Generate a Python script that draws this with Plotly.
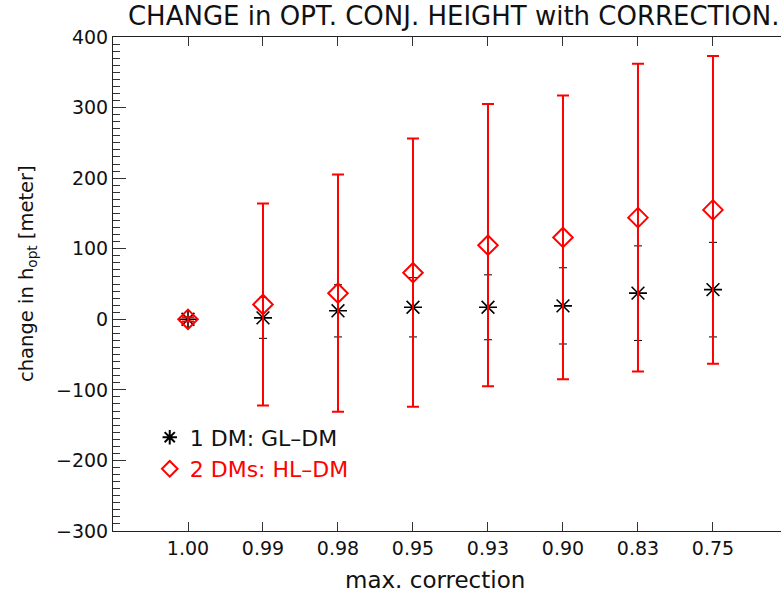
import plotly.graph_objects as go

# Data
categories = ["1.00", "0.99", "0.98", "0.95", "0.93", "0.90", "0.83", "0.75"]
positions = [1, 2, 3, 4, 5, 6, 7, 8]
one_dm_values = [0, 2, 12, 17, 17, 19, 37, 42]
one_dm_errors = [3, 29, 37, 42, 46, 54, 67, 67]
two_dm_values = [0, 21, 37, 66, 105, 116, 144, 155]
two_dm_errors = [3, 143, 168, 190, 200, 201, 218, 218]

FONT = "DejaVu Sans"
TXT = "#111111"

fig = go.Figure()

fig.add_trace(go.Scatter(
    x=positions, y=one_dm_values, mode="markers",
    name="1 DM: GL\u2013DM",
    marker=dict(symbol="asterisk-open", size=15, color="black",
                line=dict(color="black", width=1.6)),
    error_y=dict(type="data", array=one_dm_errors, visible=True,
                 color="black", thickness=1, width=4),
))
fig.add_trace(go.Scatter(
    x=positions, y=two_dm_values, mode="markers",
    name='<span style="color:#ff0000">2 DMs: HL\u2013DM</span>',
    marker=dict(symbol="diamond-open", size=15, color="#ff0000",
                line=dict(color="#ff0000", width=2)),
    error_y=dict(type="data", array=two_dm_errors, visible=True,
                 color="#ff0000", thickness=2, width=6),
))

W, H = 781, 594
L, R, T, B = 113, 0, 37, 63
PW, PH = W - L - R, H - T - B

fig.update_layout(
    width=W, height=H,
    margin=dict(l=L, r=R, t=T, b=B, pad=0),
    paper_bgcolor="white", plot_bgcolor="white",
    font=dict(family=FONT, size=19, color=TXT),
    title=dict(text="CHANGE in OPT. CONJ. HEIGHT with CORRECTION.",
               x=0.51, xanchor="center", xref="paper",
               y=1 - 16 / H, yanchor="middle", yref="container",
               font=dict(family=FONT, size=26, color=TXT)),
    showlegend=True,
    legend=dict(x=0.055, y=0.232, xanchor="left", yanchor="top",
                bgcolor="rgba(0,0,0,0)", borderwidth=0,
                font=dict(family=FONT, size=22, color=TXT),
                itemsizing="constant", tracegroupgap=0),
    xaxis=dict(
        range=[0, 8.907], tickmode="array", tickvals=positions,
        ticktext=categories, ticks="inside", ticklen=9, tickwidth=1,
        tickcolor="#333", showline=True, linecolor="#222", linewidth=1,
        mirror="ticks", showgrid=False, zeroline=False,
        tickfont=dict(family=FONT, size=19, color=TXT),
    ),
    yaxis=dict(
        range=[-300, 400], tickmode="linear", tick0=0, dtick=100,
        ticks="inside", ticklen=13, tickwidth=1, tickcolor="#333",
        showline=True, linecolor="#222", linewidth=1, mirror=False,
        showgrid=False, zeroline=False,
        minor=dict(ticks="inside", ticklen=7, dtick=10, tick0=0,
                   tickcolor="#333", tickwidth=1, showgrid=False),
        tickfont=dict(family=FONT, size=19, color=TXT),
    ),
    yaxis2=dict(
        range=[-300, 400], overlaying="y", side="right",
        tickmode="linear", tick0=0, dtick=100, ticks="inside",
        ticklen=6, tickwidth=1, tickcolor="#333", showticklabels=False,
        showline=False, showgrid=False, zeroline=False,
    ),
    annotations=[
        dict(text="max. correction", xref="paper", yref="paper",
             x=0.482, y=-(580 - 531) / PH, xanchor="center", yanchor="middle",
             showarrow=False, font=dict(family=FONT, size=23, color=TXT)),
        dict(text="change in h<sub>opt</sub> [meter]", xref="paper", yref="paper",
             x=(27 - L) / PW, y=(531 - 274) / PH, xanchor="center",
             yanchor="middle", textangle=-90, showarrow=False,
             font=dict(family=FONT, size=19.5, color=TXT)),
    ],
)

fig.write_html(
    "out.html",
    config={"displayModeBar": False},
    post_script="document.body.style.margin='0';document.body.style.overflow='hidden';",
)
